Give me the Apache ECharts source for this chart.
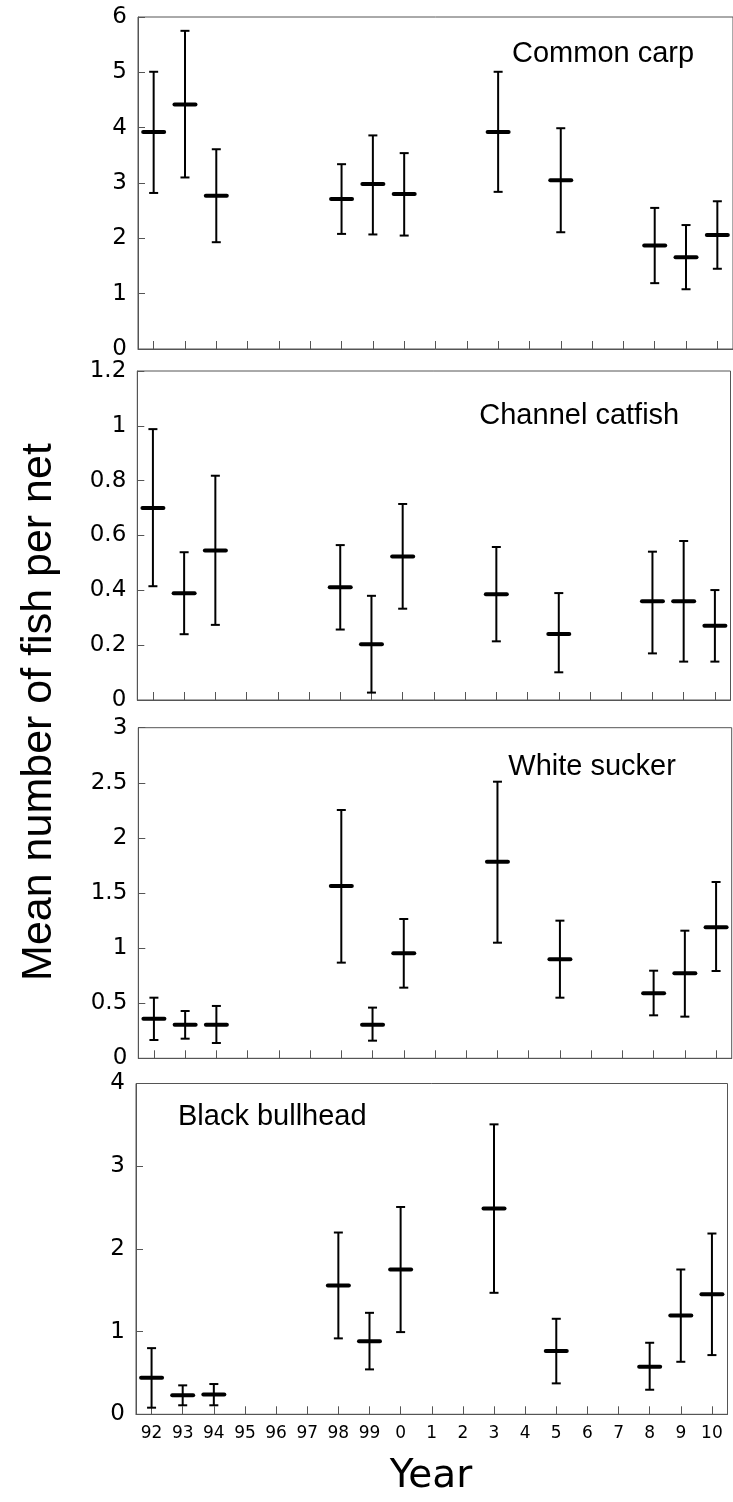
<!DOCTYPE html>
<html>
<head>
<meta charset="utf-8">
<script src="https://cdn.jsdelivr.net/npm/echarts@6/dist/echarts.min.js"></script>
<style>
html,body{margin:0;padding:0;background:#fff;}
#chart{width:733px;height:1502px;}
</style>
</head>
<body>
<div id="chart"></div>
<script>
// Category (year) labels
var years = ['92','93','94','95','96','97','98','99','0','1','2','3','4','5','6','7','8','9','10'];

// Panel names
var panelNames = ['Common carp', 'Channel catfish', 'White sucker', 'Black bullhead'];

// Common carp
var carpMean = [3.92, 4.42, 2.77, null, null, null, 2.71, 2.98, 2.80, null, null, 3.92, null, 3.05, null, null, 1.87, 1.66, 2.06];
var carpLow  = [2.82, 3.10, 1.93, null, null, null, 2.08, 2.07, 2.05, null, null, 2.84, null, 2.11, null, null, 1.19, 1.08, 1.45];
var carpHigh = [5.01, 5.75, 3.61, null, null, null, 3.34, 3.86, 3.54, null, null, 5.01, null, 3.99, null, null, 2.55, 2.24, 2.67];

// Channel catfish
var catMean = [0.70, 0.389, 0.545, null, null, null, 0.411, 0.203, 0.523, null, null, 0.386, null, 0.241, null, null, 0.36, 0.36, 0.271];
var catLow  = [0.415, 0.24, 0.274, null, null, null, 0.257, 0.027, 0.333, null, null, 0.214, null, 0.101, null, null, 0.17, 0.14, 0.14];
var catHigh = [0.988, 0.539, 0.818, null, null, null, 0.565, 0.38, 0.715, null, null, 0.558, null, 0.39, null, null, 0.541, 0.58, 0.401];

// White sucker
var suckMean = [0.36, 0.305, 0.305, null, null, null, 1.564, 0.305, 0.953, null, null, 1.784, null, 0.898, null, null, 0.59, 0.771, 1.189];
var suckLow  = [0.166, 0.178, 0.139, null, null, null, 0.868, 0.16, 0.641, null, null, 1.049, null, 0.55, null, null, 0.39, 0.378, 0.792];
var suckHigh = [0.55, 0.429, 0.475, null, null, null, 2.253, 0.46, 1.264, null, null, 2.51, null, 1.249, null, null, 0.795, 1.158, 1.60];

// Black bullhead
var bullMean = [0.442, 0.23, 0.238, null, null, null, 1.558, 0.882, 1.751, null, null, 2.488, null, 0.764, null, null, 0.575, 1.196, 1.453];
var bullLow  = [0.08, 0.109, 0.109, null, null, null, 0.918, 0.543, 0.994, null, null, 1.469, null, 0.374, null, null, 0.297, 0.635, 0.716];
var bullHigh = [0.80, 0.35, 0.366, null, null, null, 2.198, 1.227, 2.507, null, null, 3.506, null, 1.155, null, null, 0.865, 1.751, 2.186];

// Y axis scales per panel
var yMax = [6, 1.2, 3, 4];
var yInterval = [1, 0.2, 0.5, 1];

var panels = [
  [carpMean, carpLow, carpHigh],
  [catMean, catLow, catHigh],
  [suckMean, suckLow, suckHigh],
  [bullMean, bullLow, bullHigh]
];

var FONT = 'Liberation Sans';
var TICKFONT = 'DejaVu Sans';
var AXIS_COLOR = '#555';

var grids = [
  {left: 138, top: 17, width: 595, height: 332},
  {left: 137.3, top: 371, width: 593.2, height: 329},
  {left: 138.3, top: 727.7, width: 593.4, height: 330.6},
  {left: 136, top: 1083.5, width: 591.5, height: 330.8}
];

function renderErr(params, api) {
  var idx = api.value(0);
  var mean = api.value(1), lo = api.value(2), hi = api.value(3);
  var pm = api.coord([idx, mean]);
  var pl = api.coord([idx, lo]);
  var ph = api.coord([idx, hi]);
  var x = pm[0];
  var capW = 4.5, meanW = 10.5;
  var st = {stroke: '#000', lineWidth: 2};
  return {
    type: 'group',
    children: [
      {type: 'line', shape: {x1: x, y1: ph[1], x2: x, y2: pl[1]}, style: st},
      {type: 'line', shape: {x1: x - capW, y1: ph[1], x2: x + capW, y2: ph[1]}, style: st},
      {type: 'line', shape: {x1: x - capW, y1: pl[1], x2: x + capW, y2: pl[1]}, style: st},
      {type: 'line', shape: {x1: x - meanW, y1: pm[1], x2: x + meanW, y2: pm[1]}, style: {stroke: '#000', lineWidth: 4, lineCap: 'round'}}
    ]
  };
}

var xAxes = [], yAxes = [], series = [];
for (var p = 0; p < 4; p++) {
  xAxes.push({
    type: 'category', gridIndex: p, data: years, boundaryGap: true,
    axisLine: {show: true, lineStyle: {color: AXIS_COLOR, width: 1}},
    axisTick: {show: true, inside: true, alignWithLabel: true, length: 8, lineStyle: {color: AXIS_COLOR, width: 1}},
    axisLabel: {show: p === 3, fontSize: 17, fontFamily: TICKFONT, color: '#000', margin: 11, interval: 0},
    splitLine: {show: false}
  });
  yAxes.push({
    type: 'value', gridIndex: p, min: 0, max: yMax[p], interval: yInterval[p],
    axisLine: {show: true, lineStyle: {color: AXIS_COLOR, width: 1}},
    axisTick: {show: true, inside: true, length: 7, lineStyle: {color: AXIS_COLOR, width: 1}},
    axisLabel: {show: true, fontSize: 23, fontFamily: TICKFONT, color: '#000', margin: 11},
    splitLine: {show: false}
  });
  var arr = panels[p];
  var data = [];
  for (var i = 0; i < years.length; i++) {
    if (arr[0][i] !== null) data.push([i, arr[0][i], arr[1][i], arr[2][i]]);
  }
  series.push({
    type: 'custom', xAxisIndex: p, yAxisIndex: p,
    renderItem: renderErr, data: data,
    encode: {x: 0, y: [1, 2, 3]}, silent: true
  });
}

var gridOpts = grids.map(function (g) {
  return {left: g.left, top: g.top, width: g.width, height: g.height, show: true,
          borderColor: AXIS_COLOR, borderWidth: 1, backgroundColor: 'transparent', containLabel: false};
});

var labelPos = [[512, 53.5], [479.3, 416], [508.3, 767], [178, 1116.5]];
var graphics = labelPos.map(function (pos, k) {
  return {type: 'text', x: pos[0], y: pos[1],
          style: {text: panelNames[k], fontSize: 29, fontFamily: FONT, fill: '#000', align: 'left', verticalAlign: 'middle'}};
});
graphics.push({type: 'text', x: 39, y: 712, rotation: Math.PI / 2,
  style: {text: 'Mean number of fish per net', fontSize: 43, fontFamily: FONT, fill: '#000', align: 'center', verticalAlign: 'middle'}});
graphics.push({type: 'text', x: 431, y: 1477,
  style: {text: 'Year', fontSize: 39, fontFamily: TICKFONT, fill: '#000', align: 'center', verticalAlign: 'middle'}});

var chart = echarts.init(document.getElementById('chart'), null, {renderer: 'canvas'});
chart.setOption({
  animation: false,
  backgroundColor: '#fff',
  textStyle: {fontFamily: FONT},
  grid: gridOpts,
  xAxis: xAxes,
  yAxis: yAxes,
  series: series,
  graphic: graphics
});
</script>
</body>
</html>
